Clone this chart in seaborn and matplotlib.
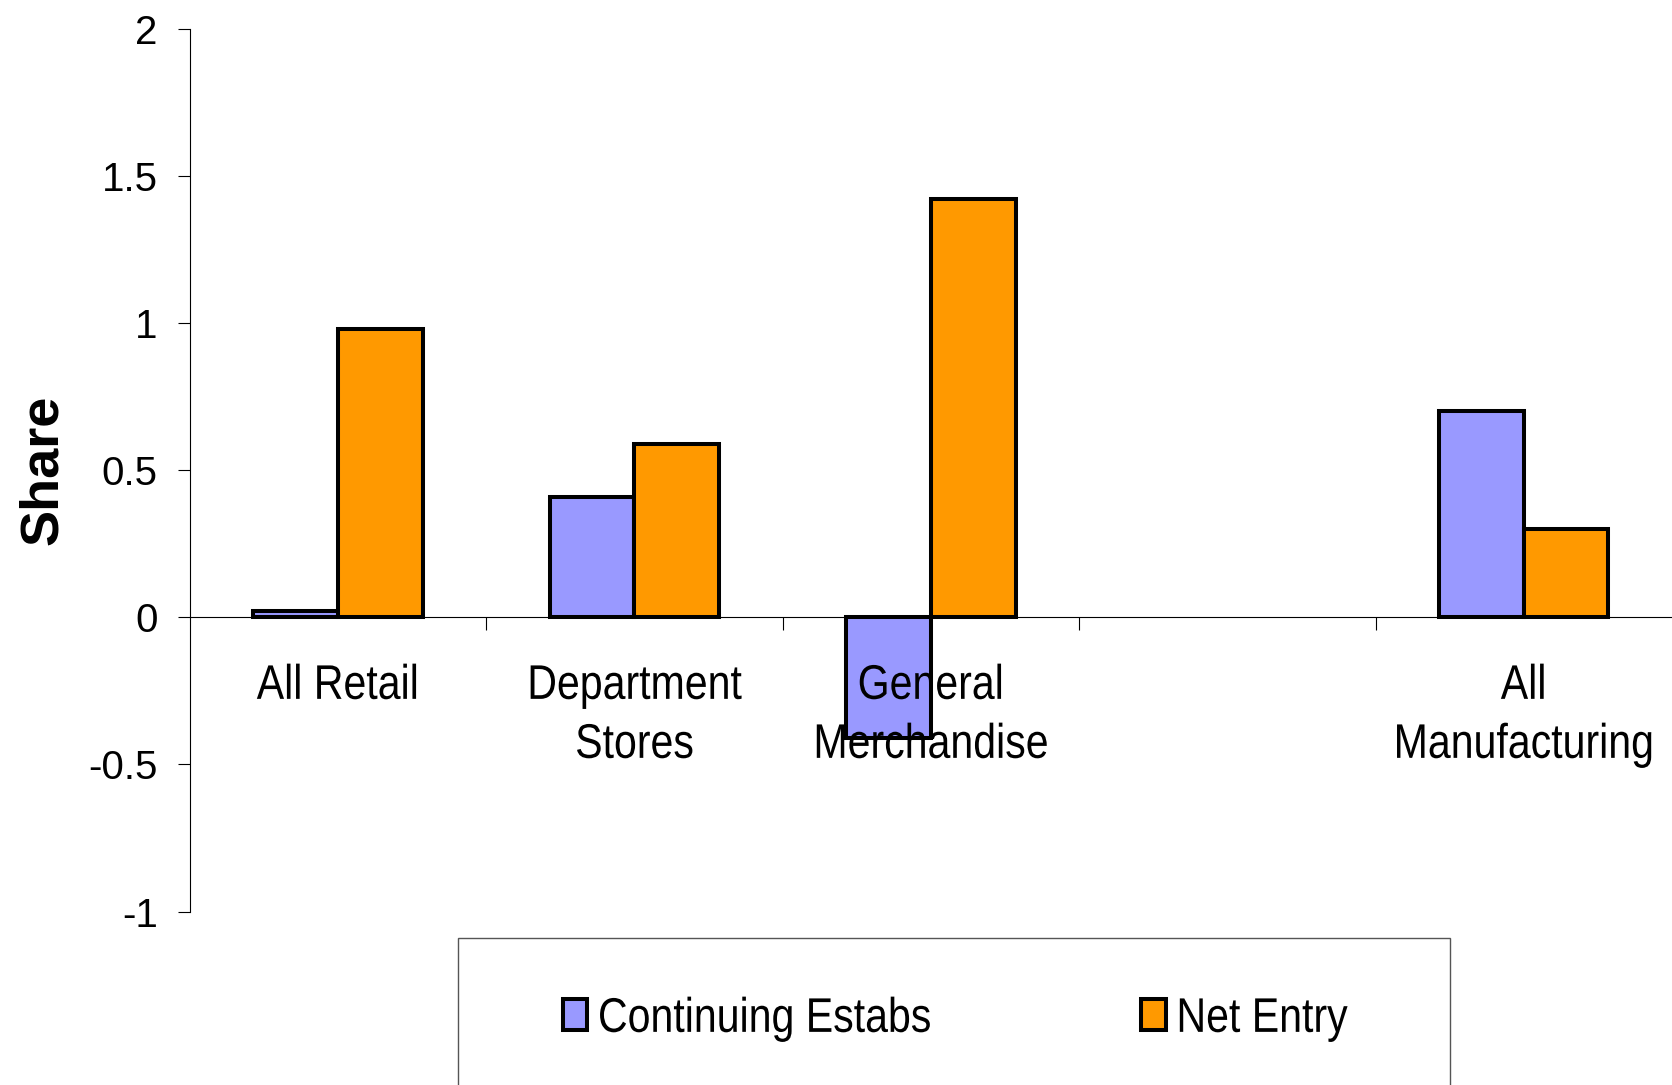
import numpy as np
import pandas as pd
import matplotlib
matplotlib.use("Agg")
import matplotlib.pyplot as plt
from matplotlib.patches import Patch, Rectangle
from matplotlib.patheffects import AbstractPathEffect
from matplotlib.transforms import Affine2D
import seaborn as sns

# Contributions to productivity growth by sector
sectors = ["All Retail", "Department\nStores", "General\nMerchandise", "All\nManufacturing"]
slot_order = ["All Retail", "Department\nStores", "General\nMerchandise", " ", "All\nManufacturing"]
continuing_estabs = [0.02, 0.41, -0.41, 0.70]
net_entry = [0.98, 0.59, 1.42, 0.30]
components = ["Continuing Estabs", "Net Entry"]
colors = ["#9999FF", "#FF9900"]
y_ticks = [-1, -0.5, 0, 0.5, 1, 1.5, 2]
y_tick_labels = ["-1", "-0.5", "0", "0.5", "1", "1.5", "2"]

df = pd.DataFrame({
    "sector": sectors * 2,
    "component": [components[0]] * len(sectors) + [components[1]] * len(sectors),
    "share": continuing_estabs + net_entry,
})


class Condense(AbstractPathEffect):
    """Draw text glyphs horizontally compressed (a narrow face)."""

    def __init__(self, sx=0.845, anchor="center"):
        super().__init__()
        self.sx = sx
        self.anchor = anchor

    def draw_path(self, renderer, gc, tpath, affine, rgbFace=None):
        ext = tpath.get_extents()
        cx = 0.5 * (ext.x0 + ext.x1) if self.anchor == "center" else 0.0
        squeeze = Affine2D().translate(-cx, 0).scale(self.sx, 1).translate(cx, 0)
        renderer.draw_path(gc, tpath, squeeze + affine, rgbFace)


sns.set_style("white")
plt.rcParams["font.family"] = ["Liberation Sans", "DejaVu Sans"]
for key in ("text.color", "axes.labelcolor", "xtick.color", "ytick.color"):
    plt.rcParams[key] = "black"

fig = plt.figure(figsize=(16.72, 10.85), dpi=100)
ax = fig.add_axes([0.1135, 0.1598, 0.8865, 0.8137])

sns.barplot(data=df, x="sector", y="share", hue="component",
            order=slot_order, hue_order=components, palette=colors,
            width=0.571, saturation=1, edgecolor="black", linewidth=2.9,
            errorbar=None, legend=False, ax=ax, zorder=1)

ax.set_xlim(-0.5, 4.5)
ax.set_ylim(-1, 2)
ax.set_axisbelow(False)

# spines: left axis plus a horizontal axis through zero
for side in ("top", "right"):
    ax.spines[side].set_visible(False)
ax.spines["bottom"].set_position(("data", 0))
for side in ("left", "bottom"):
    ax.spines[side].set_color("black")
    ax.spines[side].set_linewidth(0.8)

# y axis
ax.set_yticks(y_ticks, labels=y_tick_labels)
ax.tick_params(axis="y", which="major", direction="out", length=9, width=0.8,
               color="black", pad=14, labelsize=29, left=True)

# x axis: tick marks between groups, labels centred under each group
ax.set_xticks([0.5, 1.5, 2.5, 3.5], labels=[""] * 4)
ax.set_xticks(range(len(slot_order)), labels=[s if s.strip() else "" for s in slot_order], minor=True)
ax.tick_params(axis="x", which="major", direction="out", length=9, width=0.8,
               color="black", bottom=True)
ax.tick_params(axis="x", which="minor", length=0, pad=33.5, bottom=True)
for lab in ax.get_xticklabels(minor=True):
    lab.set_fontsize(35)
    lab.set_linespacing(1.4)
    lab.set_path_effects([Condense(0.845, "center")])
ax.set_xlabel("")

ax.set_ylabel("Share", fontsize=39, fontweight="bold", va="center")
ax.yaxis.set_label_coords(-0.0987, 0.5)

# legend with its own frame below the plot
frame = Rectangle((0.2742, -0.05), 0.593, 0.1855, transform=fig.transFigure,
                  facecolor="white", edgecolor="#555555", linewidth=1.0, zorder=0)
fig.patches.append(frame)
handles = [Patch(facecolor=c, edgecolor="black", linewidth=2.9, label=l)
           for c, l in zip(colors, components)]
leg = fig.legend(handles=handles, loc="center left", bbox_to_anchor=(0.3367, 0.0605),
                 ncol=2, frameon=False, prop={"size": 35},
                 handlelength=0.5, handleheight=0.6, handletextpad=0.22,
                 columnspacing=3.07, borderpad=0, borderaxespad=0)
for t in leg.get_texts():
    t.set_path_effects([Condense(0.845, "left")])

fig.savefig("out.png", dpi=100, facecolor="white")
